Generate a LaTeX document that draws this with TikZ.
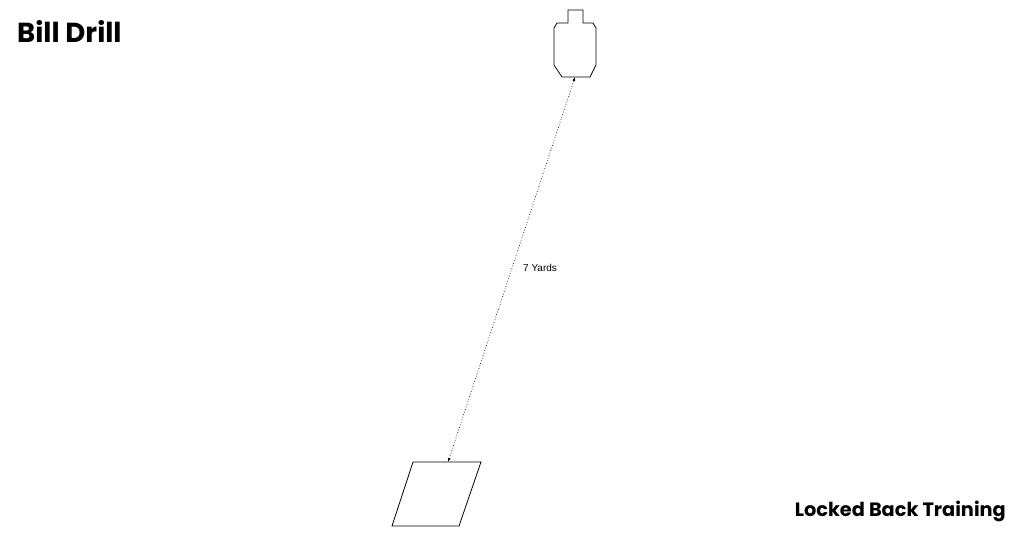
\documentclass[tikz,border=0pt]{standalone}
\usepackage{fontspec}
\setmainfont{Liberation Sans}
\newfontfamily\titlefont{Poppins}
\usetikzlibrary{arrows.meta}

\begin{document}
\begin{tikzpicture}[x=1pt,y=-1pt]
			\useasboundingbox (0,0) rectangle (1024,536);
			\node[anchor=base west,inner sep=0pt,font=\titlefont\bfseries\fontsize{27.5}{32}\selectfont] (title) at (17,42) {Bill Drill};
			\node[anchor=base east,inner sep=0pt,font=\titlefont\bfseries\fontsize{19.3}{23}\selectfont] (brand) at (1006,516) {Locked Back Training};
			
			% target silhouette
			\draw[line width=0.8pt] (568,10) -- (583,10) -- (583,23) -- (593,23) -- (596,28) -- (596,65) -- (590,77)
				-- (562,77) -- (554,65) -- (554,28) -- (557,23) -- (568,23) -- cycle;
			\coordinate (T) at (575,77);
			
			% shooter box
			\draw[line width=0.8pt] (413,462) -- (481,462) -- (459,526) -- (392,526) -- cycle;
			\coordinate (S) at (448,462);
			
			\path [{Latex[length=4pt,width=3pt]}-{Latex[length=4pt,width=3pt]}, dotted, line width=0.7pt, black] (S) edge (T);
			\node[anchor=west,inner sep=0pt,font=\fontsize{10}{12}\selectfont] (dist) at (523,268) {7 Yards};
			\end{tikzpicture}
\end{document}
